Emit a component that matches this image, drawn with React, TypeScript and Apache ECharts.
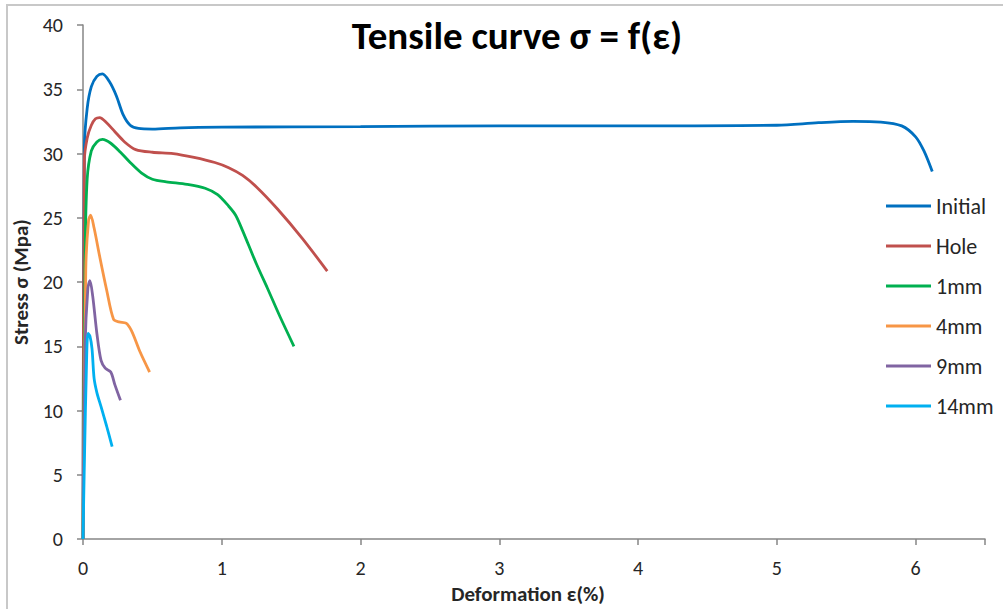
import React, { useEffect, useRef } from "react";
import * as echarts from "echarts";

const seriesNames = ["Initial", "Hole", "1mm", "4mm", "9mm", "14mm"];
const seriesColors = ["#0070C0", "#C0504D", "#00B050", "#F79646", "#8064A2", "#00B0F0"];

const initialX = [0, 0.01, 0.03, 0.06, 0.1, 0.14, 0.19, 0.24, 0.29, 0.34, 0.4, 0.5, 0.7, 1, 2, 3, 4, 5, 5.3, 5.55, 5.75, 5.9, 6.0, 6.06, 6.12];
const initialY = [0, 30.5, 33.5, 35.2, 36.0, 36.2, 35.6, 34.5, 33.0, 32.2, 31.95, 31.9, 32.0, 32.05, 32.1, 32.15, 32.15, 32.2, 32.4, 32.5, 32.45, 32.15, 31.3, 30.2, 28.6];

const holeX = [0, 0.01, 0.03, 0.06, 0.09, 0.12, 0.17, 0.23, 0.3, 0.38, 0.5, 0.65, 0.8, 0.95, 1.05, 1.15, 1.25, 1.4, 1.58, 1.76];
const holeY = [0, 29.5, 31.2, 32.2, 32.7, 32.8, 32.4, 31.7, 30.9, 30.3, 30.1, 30.0, 29.7, 29.3, 28.9, 28.3, 27.4, 25.7, 23.4, 20.85];

const mm1X = [0, 0.015, 0.03, 0.06, 0.1, 0.14, 0.2, 0.27, 0.34, 0.42, 0.5, 0.6, 0.75, 0.88, 0.97, 1.05, 1.1, 1.15, 1.25, 1.33, 1.42, 1.52];
const mm1Y = [0, 22, 28, 30.2, 30.9, 31.1, 30.8, 30.1, 29.3, 28.5, 28.0, 27.8, 27.6, 27.3, 26.8, 25.9, 25.2, 24.0, 21.4, 19.5, 17.3, 15.0];

const mm4X = [0, 0.02, 0.04, 0.055, 0.08, 0.12, 0.17, 0.22, 0.26, 0.31, 0.35, 0.41, 0.48];
const mm4Y = [0, 21, 24.8, 25.2, 24.2, 22.0, 19.4, 17.1, 16.9, 16.8, 16.2, 14.6, 13.0];

const mm9X = [0, 0.015, 0.035, 0.05, 0.07, 0.1, 0.13, 0.16, 0.2, 0.23, 0.27];
const mm9Y = [0, 15, 19.5, 20.1, 18.9, 16.0, 13.9, 13.3, 13.0, 12.0, 10.8];

const mm14X = [0, 0.01, 0.025, 0.036, 0.05, 0.065, 0.08, 0.1, 0.13, 0.17, 0.21];
const mm14Y = [0, 6, 13.5, 16.0, 15.8, 14.8, 12.5, 11.4, 10.3, 8.8, 7.2];

const allX = [initialX, holeX, mm1X, mm4X, mm9X, mm14X];
const allY = [initialY, holeY, mm1Y, mm4Y, mm9Y, mm14Y];

const FONT = "Carlito, 'Liberation Sans Narrow', 'Liberation Sans', Arial, sans-serif";

export default function App() {
  const ref = useRef<HTMLDivElement>(null);
  useEffect(() => {
    if (!ref.current) return;
    const chart = echarts.init(ref.current, null, { renderer: "svg" });
    const series = seriesNames.map((name, i) => ({
      name,
      type: "line",
      data: allX[i].map((x, j) => [x, allY[i][j]]),
      showSymbol: false,
      smooth: 0.3,
      lineStyle: { width: 2.8, color: seriesColors[i] },
      itemStyle: { color: seriesColors[i] },
    }));
    chart.setOption({
      animation: false,
      backgroundColor: "#ffffff",
      textStyle: { fontFamily: FONT },
      title: {
        text: "Tensile curve σ = f(ε)",
        left: 512,
        top: 11,
        textAlign: "center",
        textStyle: { fontSize: 39, fontWeight: "bold", color: "#000", fontFamily: FONT },
      },
      legend: {
        orient: "vertical",
        left: 886,
        top: 195,
        padding: 0,
        icon: "rect",
        itemWidth: 45,
        itemHeight: 3,
        itemGap: 18,
        itemTextGap: 3,
        textStyle: { fontSize: 22, color: "#262626", fontFamily: FONT, lineHeight: 22 },
        data: seriesNames,
      },
      grid: { left: 83, right: 18, top: 25, bottom: 68, containLabel: false },
      xAxis: {
        type: "value",
        min: 0,
        max: 6.5,
        interval: 1,
        name: "Deformation ε(%)",
        nameLocation: "middle",
        nameGap: 37,
        nameTextStyle: { fontSize: 21, fontWeight: "bold", color: "#262626", fontFamily: FONT, padding: [0, 12, 0, 0] },
        axisLine: { lineStyle: { color: "#868686", width: 1.5 } },
        axisTick: { show: true, length: 6, lineStyle: { color: "#868686", width: 1.5 } },
        axisLabel: {
          fontSize: 20,
          color: "#262626",
          margin: 19,
          formatter: (v: number) => (Number.isInteger(v) ? String(v) : ""),
        },
        splitLine: { show: false },
      },
      yAxis: {
        type: "value",
        min: 0,
        max: 40,
        interval: 5,
        name: "Stress σ (Mpa)",
        nameLocation: "middle",
        nameGap: 52,
        nameTextStyle: { fontSize: 21, fontWeight: "bold", color: "#262626", fontFamily: FONT },
        axisLine: { show: true, lineStyle: { color: "#868686", width: 1.5 } },
        axisTick: { show: true, length: 6, lineStyle: { color: "#868686", width: 1.5 } },
        axisLabel: { fontSize: 20, color: "#262626", margin: 20 },
        splitLine: { show: false },
      },
      graphic: [
        {
          type: "rect",
          shape: { x: 7, y: 5, width: 1010, height: 620 },
          style: { fill: "none", stroke: "#c8c8c8", lineWidth: 2 },
          silent: true,
          z: -1,
        },
      ],
      series,
    });
    return () => chart.dispose();
  }, []);
  return (
    <div
      ref={ref}
      style={{ position: "absolute", left: 0, top: 0, width: 1003, height: 609 }}
    />
  );
}
